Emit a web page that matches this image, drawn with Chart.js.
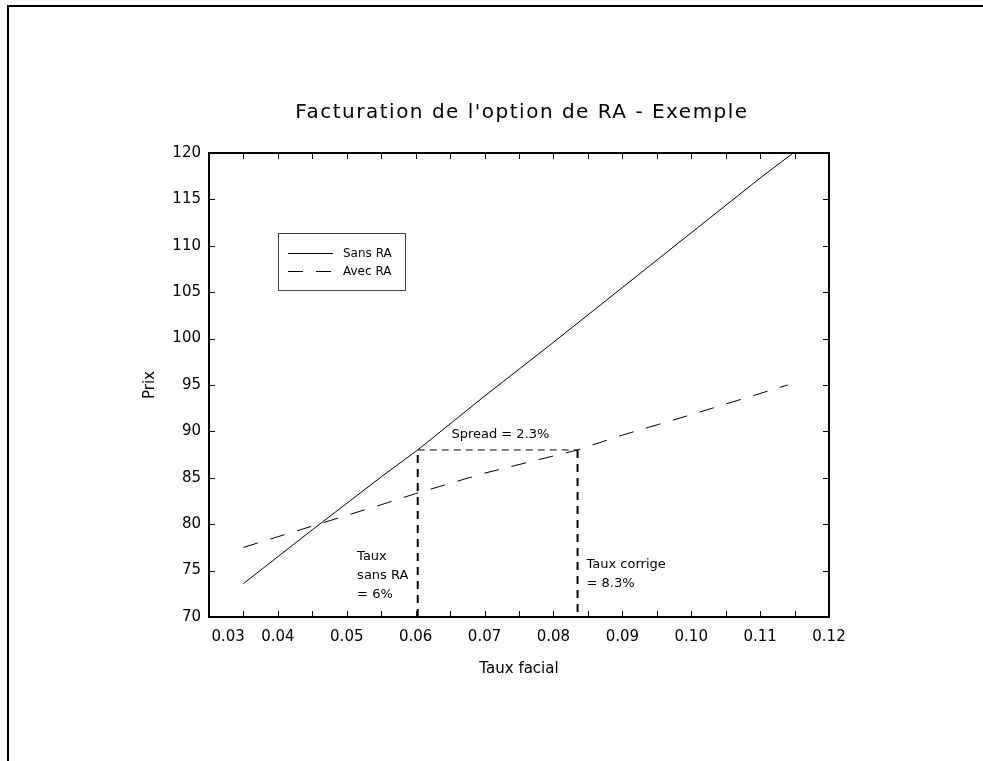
<!DOCTYPE html>
<html>
<head>
<meta charset="utf-8">
<script src="https://cdn.jsdelivr.net/npm/chart.js@4.4.0/dist/chart.umd.min.js"></script>
<style>
  html, body { margin: 0; padding: 0; background: #fff; }
  #wrap { position: relative; width: 983px; height: 761px; }
  #frameTop { position: absolute; left: 7px; top: 5px; right: 0; height: 2px; background: #000; }
  #frameLeft { position: absolute; left: 7px; top: 5px; bottom: 0; width: 2px; background: #000; }
</style>
</head>
<body>
<div id="wrap">
  <canvas id="chart" width="983" height="761"></canvas>
  <div id="frameTop"></div>
  <div id="frameLeft"></div>
</div>
<script>
  // Prix vs taux facial
  const sansRaX = [0.035, 0.045, 0.055, 0.0603, 0.07, 0.08, 0.09, 0.10, 0.11, 0.1148];
  const sansRaY = [73.6, 79.4, 85.1, 88.0, 93.8, 99.6, 105.5, 111.4, 117.3, 120.0];
  const avecRaX = [0.035, 0.045, 0.055, 0.06, 0.07, 0.0835, 0.09, 0.10, 0.114];
  const avecRaY = [77.5, 79.8, 82.1, 83.3, 85.5, 88.0, 89.6, 91.8, 95.0];

  // repères : taux sans RA = 6%, taux corrigé = 8.3%, prix 88
  const guideLeftX = [0.0603, 0.0603];
  const guideLeftY = [70, 88];
  const guideTopX = [0.0603, 0.0835];
  const guideTopY = [88, 88];
  const guideRightX = [0.0835, 0.0835];
  const guideRightY = [88, 70];

  const xMin = 0.03, xMax = 0.12, xStep = 0.01, xMinorStep = 0.005;
  const yMin = 70, yMax = 120, yStep = 5;

  const FONT = "'DejaVu Sans', sans-serif";

  const pts = (xs, ys) => xs.map((x, i) => ({ x, y: ys[i] }));

  const annotations = [
    { x: 0.0723, y: 89.6, align: "center", lines: ["Spread = 2.3%"] },
    { x: 0.0515, y: 76.5, align: "left", lines: ["Taux", "sans RA", "= 6%"] },
    { x: 0.0848, y: 75.6, align: "left", lines: ["Taux corrige", "= 8.3%"] },
  ];

  const decor = {
    id: "decor",
    afterDraw(chart) {
      const { ctx, chartArea: a, scales } = chart;
      const xs = scales.x, ys = scales.y;
      ctx.save();
      ctx.strokeStyle = "#000";
      ctx.fillStyle = "#000";

      // cadre du graphique
      ctx.lineWidth = 2;
      ctx.strokeRect(a.left, a.top, a.right - a.left, a.bottom - a.top);

      // graduations vers l'intérieur
      ctx.lineWidth = 1;
      ctx.beginPath();
      for (let v = xMin + xMinorStep; v < xMax - 1e-9; v += xMinorStep) {
        const px = Math.round(xs.getPixelForValue(v)) + 0.5;
        ctx.moveTo(px, a.bottom); ctx.lineTo(px, a.bottom - 6);
        ctx.moveTo(px, a.top); ctx.lineTo(px, a.top + 6);
      }
      for (let v = yMin + yStep; v < yMax - 1e-9; v += yStep) {
        const py = Math.round(ys.getPixelForValue(v)) + 0.5;
        ctx.moveTo(a.left, py); ctx.lineTo(a.left + 6, py);
        ctx.moveTo(a.right, py); ctx.lineTo(a.right - 6, py);
      }
      ctx.stroke();

      // titre
      ctx.font = "20px " + FONT;
      ctx.textAlign = "center";
      ctx.textBaseline = "middle";
      ctx.letterSpacing = "1.5px";
      ctx.fillText("Facturation de l'option de RA - Exemple", 522, 113);
      ctx.letterSpacing = "0px";

      // titres d'axes
      ctx.font = "15px " + FONT;
      ctx.fillText("Taux facial", (a.left + a.right) / 2, 669);
      ctx.save();
      ctx.translate(150, (a.top + a.bottom) / 2);
      ctx.rotate(-Math.PI / 2);
      ctx.fillText("Prix", 0, 0);
      ctx.restore();

      // annotations
      ctx.font = "13px " + FONT;
      annotations.forEach((t) => {
        ctx.textAlign = t.align;
        const px = xs.getPixelForValue(t.x);
        const py = ys.getPixelForValue(t.y);
        t.lines.forEach((ln, i) => ctx.fillText(ln, px, py + i * 19));
      });

      // légende
      const lx = 278, ly = 233, lw = 127, lh = 57;
      ctx.lineWidth = 1;
      ctx.strokeStyle = "#444";
      ctx.strokeRect(lx + 0.5, ly + 0.5, lw, lh);
      ctx.strokeStyle = "#000";
      ctx.textAlign = "left";
      ctx.font = "12px " + FONT;
      chart.data.datasets.slice(0, 2).forEach((ds, i) => {
        const yy = ly + 20 + i * 18 + 0.5;
        ctx.setLineDash(ds.borderDash || []);
        ctx.beginPath();
        ctx.moveTo(lx + 10, yy); ctx.lineTo(lx + 55, yy);
        ctx.stroke();
        ctx.setLineDash([]);
        ctx.fillText(ds.label, lx + 65, yy);
      });
      ctx.restore();
    },
  };

  const guideStyle = (w, dash) => ({
    borderColor: "#000", borderWidth: w, borderDash: dash,
    pointRadius: 0, fill: false, tension: 0,
  });

  new Chart(document.getElementById("chart"), {
    type: "line",
    data: {
      datasets: [
        { label: "Sans RA", data: pts(sansRaX, sansRaY), borderColor: "#000", borderWidth: 1, pointRadius: 0, tension: 0 },
        { label: "Avec RA", data: pts(avecRaX, avecRaY), borderColor: "#000", borderWidth: 1, borderDash: [15, 13], pointRadius: 0, tension: 0 },
        { label: "g1", data: pts(guideLeftX, guideLeftY), ...guideStyle(2, [8, 6]) },
        { label: "g2", data: pts(guideTopX, guideTopY), ...guideStyle(1, [7, 5]) },
        { label: "g3", data: pts(guideRightX, guideRightY), ...guideStyle(2, [8, 6]) },
      ],
    },
    options: {
      responsive: false,
      animation: false,
      layout: { padding: { left: 0, top: 153, right: 154, bottom: 0 } },
      plugins: { legend: { display: false }, tooltip: { enabled: false }, title: { display: false } },
      scales: {
        x: {
          type: "linear", min: xMin, max: xMax,
          grid: { display: false, drawTicks: false },
          border: { display: false },
          afterFit(s) { s.height = 144; },
          ticks: {
            stepSize: xStep, padding: 11, color: "#000",
            font: { family: FONT, size: 15 },
            maxRotation: 0, autoSkip: false,
            callback: (v) => (Math.abs(v - xMin) < 1e-9 ? "\u2007\u2007\u2007\u2007" : "") + Number(v).toFixed(2),
          },
        },
        y: {
          type: "linear", min: yMin, max: yMax,
          grid: { display: false, drawTicks: false },
          border: { display: false },
          afterFit(s) { s.width = 209; },
          ticks: {
            stepSize: yStep, padding: 8, color: "#000",
            font: { family: FONT, size: 15 },
          },
        },
      },
    },
    plugins: [decor],
  });
</script>
</body>
</html>
